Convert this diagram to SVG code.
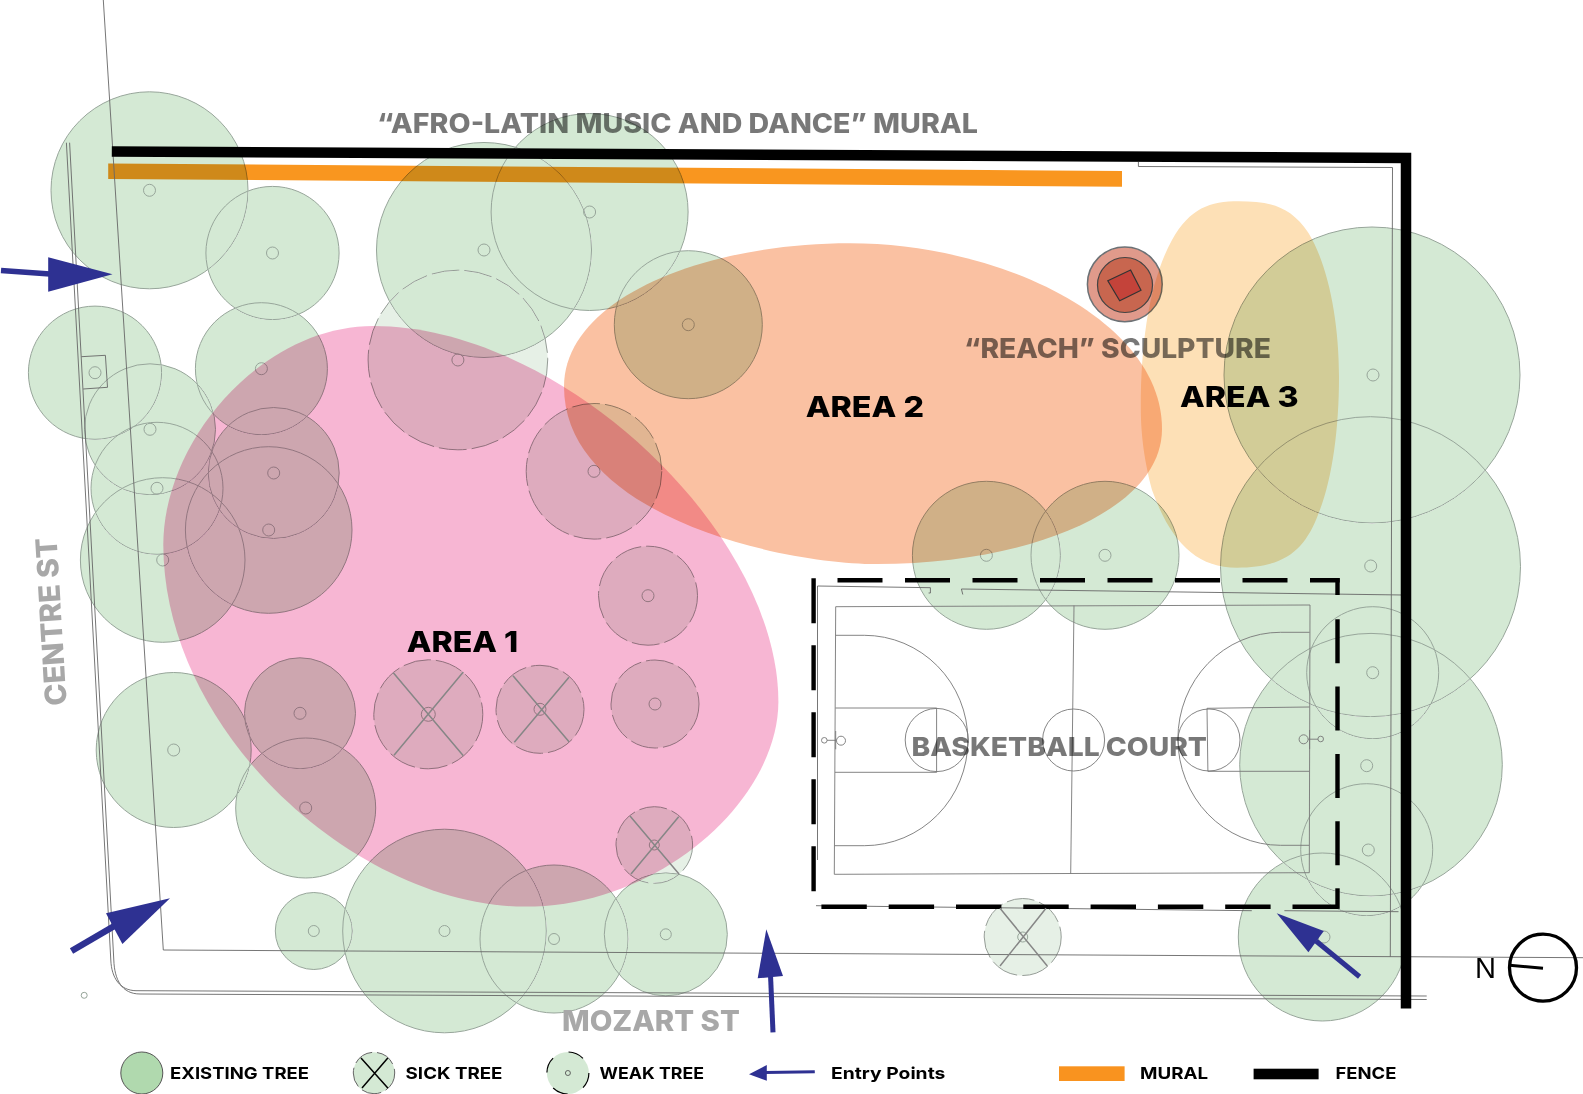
<svg xmlns="http://www.w3.org/2000/svg" width="1583" height="1094" viewBox="0 0 1583 1094">
<style>
.t{fill:#d4e9d4;stroke:#97a59a;stroke-width:1;mix-blend-mode:darken}
.w{fill:#e6f0e6;stroke:#959c96;stroke-width:1;stroke-dasharray:28 5;mix-blend-mode:darken}
.m{fill:none;stroke:#97a59a;stroke-width:1}
.x{stroke:#868686;stroke-width:1.5;fill:none}
.l{fill:none;stroke:#666;stroke-width:.9}
.c{fill:none;stroke:#777;stroke-width:.9}
.area{mix-blend-mode:multiply}
.d{stroke:#000;stroke-width:4.4;fill:none}
.a{fill:#2e3192}
.s{fill:none;stroke:#2e3192}
text{font-family:"Inter","Liberation Sans",sans-serif}
.g{font-weight:800;fill:#000;fill-opacity:.53}
.st{font-weight:800;fill:#a8a8a8}
.ar{font-weight:800;font-size:29px;fill:#000}
.lg{font-weight:700;font-size:16.5px;fill:#000}
</style>
<rect width="1583" height="1094" fill="#fff"/>
<g id="trees">
<g id="tree-1"><circle class="t" cx="149.5" cy="190.3" r="98.5"/><circle class="m" cx="149.5" cy="190.3" r="6"/></g>
<g id="tree-2"><circle class="t" cx="272.5" cy="253" r="66.6"/><circle class="m" cx="272.5" cy="253" r="6"/></g>
<g id="tree-3"><circle class="t" cx="484" cy="250" r="107.5"/><circle class="m" cx="484" cy="250" r="6"/></g>
<g id="tree-4"><circle class="t" cx="589.6" cy="212" r="98.5"/><circle class="m" cx="589.6" cy="212" r="6"/></g>
<g id="tree-5"><circle class="t" cx="688.3" cy="324.7" r="74"/><circle class="m" cx="688.3" cy="324.7" r="6"/></g>
<g id="tree-6"><circle class="t" cx="95" cy="372.7" r="66.6"/><circle class="m" cx="95" cy="372.7" r="6"/></g>
<g id="tree-7"><circle class="t" cx="150" cy="429.3" r="65.5"/><circle class="m" cx="150" cy="429.3" r="6"/></g>
<g id="tree-8"><circle class="t" cx="261.4" cy="368.7" r="66"/><circle class="m" cx="261.4" cy="368.7" r="6"/></g>
<g id="tree-9"><circle class="t" cx="273.7" cy="473" r="65.5"/><circle class="m" cx="273.7" cy="473" r="6"/></g>
<g id="tree-10"><circle class="t" cx="157" cy="488.3" r="66"/><circle class="m" cx="157" cy="488.3" r="6"/></g>
<g id="tree-11"><circle class="t" cx="268.7" cy="530" r="83.3"/><circle class="m" cx="268.7" cy="530" r="6"/></g>
<g id="tree-12"><circle class="t" cx="162.7" cy="560" r="82.3"/><circle class="m" cx="162.7" cy="560" r="6"/></g>
<g id="tree-13"><circle class="t" cx="173.7" cy="750" r="77.5"/><circle class="m" cx="173.7" cy="750" r="6"/></g>
<g id="tree-14"><circle class="t" cx="300" cy="713.3" r="55.5"/><circle class="m" cx="300" cy="713.3" r="6"/></g>
<g id="tree-15"><circle class="t" cx="305.7" cy="808" r="70"/><circle class="m" cx="305.7" cy="808" r="6"/></g>
<g id="tree-16"><circle class="t" cx="313.8" cy="931" r="38.5"/><circle class="m" cx="313.8" cy="931" r="5.5"/></g>
<g id="tree-17"><circle class="t" cx="444.5" cy="931" r="101.8"/><circle class="m" cx="444.5" cy="931" r="5.5"/></g>
<g id="tree-18"><circle class="t" cx="554" cy="939" r="74"/><circle class="m" cx="554" cy="939" r="5.5"/></g>
<g id="tree-19"><circle class="t" cx="665.8" cy="934.3" r="61.5"/><circle class="m" cx="665.8" cy="934.3" r="5.5"/></g>
<g id="tree-20"><circle class="t" cx="986.4" cy="555.3" r="74"/><circle class="m" cx="986.4" cy="555.3" r="6"/></g>
<g id="tree-21"><circle class="t" cx="1105" cy="555.3" r="74"/><circle class="m" cx="1105" cy="555.3" r="6"/></g>
<g id="tree-22"><circle class="t" cx="1372" cy="375" r="148"/><circle class="m" cx="1373" cy="375" r="6"/></g>
<g id="tree-23"><circle class="t" cx="1370.5" cy="566.7" r="150"/><circle class="m" cx="1370.7" cy="566" r="6"/></g>
<g id="tree-24"><circle class="t" cx="1372.7" cy="672.7" r="66"/><circle class="m" cx="1372.7" cy="672.7" r="6"/></g>
<g id="tree-25"><circle class="t" cx="1371" cy="764.7" r="131.3"/><circle class="m" cx="1366.7" cy="765.7" r="6"/></g>
<g id="tree-26"><circle class="t" cx="1366.7" cy="849.7" r="66"/><circle class="m" cx="1368.3" cy="850" r="6"/></g>
<g id="tree-27"><circle class="t" cx="1322.3" cy="937" r="84"/><circle class="m" cx="1324" cy="937" r="6"/></g>
<g id="weak-1"><circle class="w" cx="457.9" cy="360" r="89.8"/><circle class="m" cx="457.9" cy="360" r="6"/></g>
<g id="weak-2"><circle class="w" cx="594" cy="471.3" r="67.8"/><circle class="m" cx="594" cy="471.3" r="6"/></g>
<g id="weak-3"><circle class="w" cx="648" cy="595.7" r="49.5"/><circle class="m" cx="648" cy="595.7" r="6"/></g>
<g id="weak-4"><circle class="w" cx="655" cy="704" r="44"/><circle class="m" cx="655" cy="704" r="6"/></g>
<g id="sick-1"><circle class="w" cx="428.3" cy="714.3" r="54.5"/><circle class="m" cx="428.3" cy="714.3" r="7"/></g>
<g id="sick-2"><circle class="w" cx="540" cy="709.3" r="44"/><circle class="m" cx="540" cy="709.3" r="6"/></g>
<g id="sick-3"><circle class="w" cx="654.3" cy="845" r="38.3"/><circle class="m" cx="654.3" cy="845" r="5"/></g>
<g id="sick-4"><circle class="w" cx="1022.7" cy="937" r="38.5"/><circle class="m" cx="1022.7" cy="937" r="5"/></g>
</g>
<g id="sculpture">
<circle cx="1124.8" cy="284.3" r="37.4" fill="#e09a8b" stroke="#6c7175" stroke-width="1.5"/>
<circle cx="1125" cy="285" r="27.5" fill="#c8664f" stroke="#444" stroke-width="1.2"/>
<polygon points="1107.8,280.7 1130.6,270 1141,290.3 1119.7,300.7" fill="#c4433a" stroke="#333" stroke-width="1.2"/>
</g>
<path id="mural" class="area" d="M108.2,163.5L1122,171V186.7L108.2,179Z" fill="#f9961f"/>
<g id="site-lines">
<path class="l" d="M103.3,0L163.3,950L1583,957.7"/>
<path class="l" d="M66.4,142.7L110.8,960C111.5,978 120,990.5 136,990.7L1426.7,996"/>
<path class="l" d="M69.6,142.7L113.8,960C114.5,980 122,994 140,994L1426.7,999.5"/>
<path class="l" d="M1138.4,162V166.5L1392.5,167.5L1390.3,956.7"/>
<path class="l" d="M817.5,860V586L930.4,587.7V593H928.6"/>
<path class="l" d="M962.8,594.5L961.4,589L1403,595"/>
<path class="l" d="M816,905.7L1251.8,910.7M1284.4,910.7L1398.5,911.7"/>
<path class="l" d="M81.4,356.7L105.4,355.3L107.5,387.3L83.2,389"/>
<circle class="m" cx="84.2" cy="995.3" r="3"/>
</g>
<g id="basketball-court">
<path class="c" d="M835.7,606.7L1310,605L1309.3,872.7L834.3,874.3Z"/>
<path class="c" d="M1074,605.5L1070.7,873.7"/>
<circle class="c" cx="1073.6" cy="740" r="31"/>
<path class="c" d="M835.7,635.3H864.3A103.6,105.2 0 0 1 864.3,845.7H834.6"/>
<path class="c" d="M835.4,708H936.6V772.3H835"/>
<circle class="c" cx="936.8" cy="740" r="31.6"/>
<path class="c" d="M1309.6,632.3H1280.4A102.5,106.5 0 0 0 1280.4,845.3H1309"/>
<path class="c" d="M1309.6,707L1207,708.3L1207.9,771.3H1309.3"/>
<circle class="c" cx="1209" cy="740" r="31"/>
<circle class="c" cx="824.3" cy="740.3" r="2.8"/><circle class="c" cx="841" cy="740.7" r="4.5"/>
<path class="c" d="M827,740.3H836.5M835.7,731V749.3" stroke-width="1.3"/>
<circle class="c" cx="1303.6" cy="739.3" r="4.5"/><circle class="c" cx="1320.7" cy="739" r="2.8"/>
<path class="c" d="M1308,739.2H1318M1309.6,730V749" stroke-width="1.3"/>
</g>
<g id="court-fence">
<path class="d" d="M813.6,578.3V892.3" stroke-dasharray="45 22"/>
<path class="d" d="M837.5,580.3H1339.7" stroke-dasharray="45 22.5"/>
<path class="d" d="M1337.5,578.2V595"/>
<path class="d" d="M1337.5,619.3V888" stroke-dasharray="44 23.3"/>
<path class="d" d="M1337.5,888.3V908.9"/>
<path class="d" d="M821.4,906.7H1339.7" stroke-dasharray="45.4 21.9"/>
</g>
<g id="areas">
<path id="area-1" class="area" fill="#f7b6d3" d="M373.5,326C560,326 778,530 778.4,701.7C778,800 660,906.6 525,906.6C360,906.6 163.6,735 163.3,545C163.3,440 262,326 373.5,326Z"/>
<path id="area-2" class="area" fill="#fac1a2" d="M564,386.7C564,300 700,243.3 850,243.3C1000,243.3 1162,320 1162,429C1162,510 1030,564 876.7,564C780,564 564,515 564,386.7Z"/>
<path id="area-3" class="area" fill="#fde0b6" d="M1238.8,201.3C1268,201.3 1290,205 1308.5,233C1328,265 1339,320 1339,376.7C1339,430 1332,480 1318.7,513C1305,550 1285,567.7 1237,567.7C1195,567.7 1170,540 1152,490C1143,455 1140.8,430 1140.8,406.7C1140.8,340 1150,280 1172,240C1190,208 1210,201.3 1238.8,201.3Z"/>
</g>
<g id="sick-marks">
<path class="x" d="M393.3,672.7L463.3,755.7M463.3,672L394,755.3"/>
<path class="x" d="M513,675.7L569,741.7M569,677.3L514.3,742.3"/>
<path class="x" d="M630,816L679,874M678.7,816.7L631,874"/>
<path class="x" d="M1000,908.3L1047.3,966M1046,908.3L1000,966"/>
</g>
<path id="fence" d="M111.8,151.5L1406,158V1008.5" fill="none" stroke="#000" stroke-width="10.5"/>
<g id="connectors">
<g id="entry-w"><path class="s" stroke-width="5.5" d="M1,270.5L50,274"/><polygon class="a" points="48.2,257.3 112.5,274.3 48.2,291.7"/></g>
<g id="entry-sw"><path class="s" stroke-width="6.5" d="M71.5,951L116,925"/><polygon class="a" points="170,898.3 106,913.3 122.4,944"/></g>
<g id="entry-s"><path class="s" stroke-width="5" d="M770.5,975L773,1032.3"/><polygon class="a" points="766.3,929.3 757.7,978.3 783,976"/></g>
<g id="entry-se"><path class="s" stroke-width="5" d="M1316,941L1359.6,976.7"/><polygon class="a" points="1276.7,913.3 1323.8,931 1308.4,952.3"/></g>
</g>
<g id="north">
<text x="1475" y="978.3" font-size="29" style="font-family:'Liberation Sans',sans-serif" textLength="21" lengthAdjust="spacingAndGlyphs">N</text>
<circle cx="1543" cy="967.7" r="33.5" fill="none" stroke="#000" stroke-width="3.3"/>
<path d="M1509.6,965.3L1543,968.3" stroke="#000" stroke-width="3" fill="none"/>
</g>
<g id="labels">
<text class="g" x="377" y="133" font-size="27" textLength="601" lengthAdjust="spacingAndGlyphs">“AFRO-LATIN MUSIC AND DANCE” MURAL</text>
<text class="g" x="964" y="357.7" font-size="27" textLength="307" lengthAdjust="spacingAndGlyphs">“REACH” SCULPTURE</text>
<text class="g" x="911.4" y="755.7" font-size="26" textLength="295.6" lengthAdjust="spacingAndGlyphs">BASKETBALL COURT</text>
<text class="ar" x="406.7" y="651.7" textLength="111.6" lengthAdjust="spacingAndGlyphs">AREA 1</text>
<text class="ar" x="805.7" y="416.7" textLength="118.3" lengthAdjust="spacingAndGlyphs">AREA 2</text>
<text class="ar" x="1180" y="406.7" textLength="118.6" lengthAdjust="spacingAndGlyphs">AREA 3</text>
<text class="st" x="562" y="1031" font-size="28" textLength="177.8" lengthAdjust="spacingAndGlyphs">MOZART ST</text>
<text class="st" transform="translate(66.7 705) rotate(-93.5)" font-size="29.5" textLength="168" lengthAdjust="spacingAndGlyphs">CENTRE ST</text>
</g>
<g id="legend">
<g id="legend-existing"><circle cx="141.8" cy="1073" r="21" fill="#b0d9ae" stroke="#555" stroke-width="1"/><text class="lg" x="170" y="1078.7" textLength="139" lengthAdjust="spacingAndGlyphs">EXISTING TREE</text></g>
<g id="legend-sick"><circle cx="374" cy="1073" r="20.7" fill="#d4e9d4" stroke="#666" stroke-width="1" stroke-dasharray="20 5"/><path d="M361,1058L387.8,1088M387.8,1058L362,1088" stroke="#000" stroke-width="1.5" fill="none"/><text class="lg" x="405.6" y="1078.7" textLength="96.9" lengthAdjust="spacingAndGlyphs">SICK TREE</text></g>
<g id="legend-weak"><circle cx="567.9" cy="1073" r="21" fill="#d4e9d4" stroke="#000" stroke-width="1.2" stroke-dasharray="16 17"/><circle cx="567.9" cy="1073" r="2.5" fill="none" stroke="#555" stroke-width=".9"/><text class="lg" x="599.5" y="1078.7" textLength="104.5" lengthAdjust="spacingAndGlyphs">WEAK TREE</text></g>
<g id="legend-entry"><path class="s" stroke-width="3" d="M765,1072.6L814.8,1071.7"/><polygon class="a" points="749,1074.3 766.8,1065 766.8,1080.7"/><text class="lg" x="831" y="1078.7" textLength="114.4" lengthAdjust="spacingAndGlyphs">Entry Points</text></g>
<g id="legend-mural"><rect x="1059" y="1066.3" width="65.6" height="14.7" fill="#f9931f"/><text class="lg" x="1140" y="1078.7" textLength="68" lengthAdjust="spacingAndGlyphs">MURAL</text></g>
<g id="legend-fence"><rect x="1253.6" y="1068.7" width="65" height="10.6" fill="#000"/><text class="lg" x="1335.5" y="1078.7" textLength="61" lengthAdjust="spacingAndGlyphs">FENCE</text></g>
</g>
</svg>
